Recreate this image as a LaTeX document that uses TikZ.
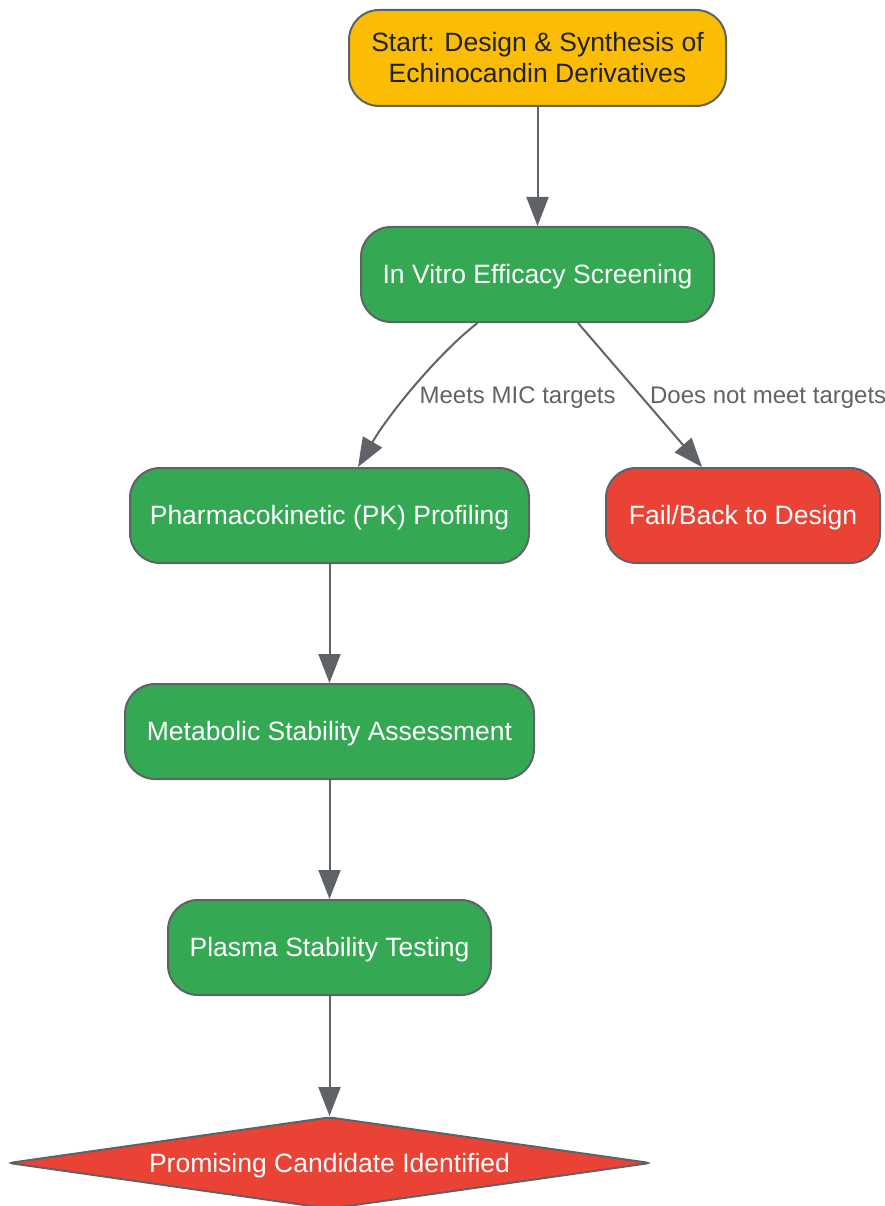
\documentclass[tikz,border=0pt]{standalone}
\usepackage{fontspec}
\setmainfont{Liberation Sans}
\usetikzlibrary{arrows.meta,shapes.geometric}
\definecolor{bordergray}{HTML}{5F6368}
\definecolor{startyellow}{HTML}{FBBC04}
\definecolor{okgreen}{HTML}{34A853}
\definecolor{failred}{HTML}{EA4335}
\definecolor{darktext}{HTML}{202124}
\tikzset{
  box/.style={draw=bordergray, line width=2pt, rounded corners=30pt, minimum height=95pt,
    inner sep=0pt, align=center, font=\fontsize{26.5}{31}\selectfont},
  oneline/.style={text height=21pt, text depth=3pt},
  greenbox/.style={box, oneline, fill=okgreen, text=white},
  redbox/.style={box, oneline, fill=failred, text=white},
  startbox/.style={box, fill=startyellow, text=darktext},
  flow/.style={draw=bordergray, line width=2pt, -{Triangle[length=29pt,width=22pt]}},
  lbl/.style={text=bordergray, inner sep=0pt, font=\fontsize{24}{28}\selectfont},
}
\begin{document}
\begin{tikzpicture}[x=1pt,y=-1pt]
\useasboundingbox (0,0) rectangle (885,1206);
\node[startbox, minimum width=377pt, minimum height=96pt] (start) at (537.5,58) {Start: Design \& Synthesis of\\Echinocandin Derivatives};
\node[greenbox, minimum width=353pt] (iv) at (537.5,274.5) {In Vitro Efficacy Screening};
\node[greenbox, minimum width=399pt] (pk) at (329.5,515.5) {Pharmacokinetic (PK) Profiling};
\node[redbox, minimum width=274pt] (fail) at (743,515.5) {Fail/Back to Design};
\node[greenbox, minimum width=409pt] (met) at (329.5,731.5) {Metabolic Stability Assessment};
\node[greenbox, minimum width=323pt] (plasma) at (329.5,947.5) {Plasma Stability Testing};
\node[diamond, oneline, draw=bordergray, line width=2pt, fill=failred, text=white, rounded corners=4pt,
  minimum width=642pt, minimum height=92pt, inner sep=0pt, aspect=7,
  font=\fontsize{26.5}{31}\selectfont] (cand) at (329.5,1163) {Promising Candidate Identified};
\draw[flow] (start) -- (iv);
\draw[flow] ([xshift=-60pt]iv.south) .. controls (440,352) and (390,412) .. ([xshift=28.5pt]pk.north)
  node[lbl, pos=0.58, anchor=west, xshift=13pt] {Meets MIC targets};
\draw[flow] ([xshift=40.5pt]iv.south) -- ([xshift=-41pt]fail.north)
  node[lbl, pos=0.517, anchor=west, xshift=7pt] {Does not meet targets};
\draw[flow] (pk) -- (met);
\draw[flow] (met) -- (plasma);
\draw[flow] (plasma) -- (cand);
\end{tikzpicture}
\end{document}
